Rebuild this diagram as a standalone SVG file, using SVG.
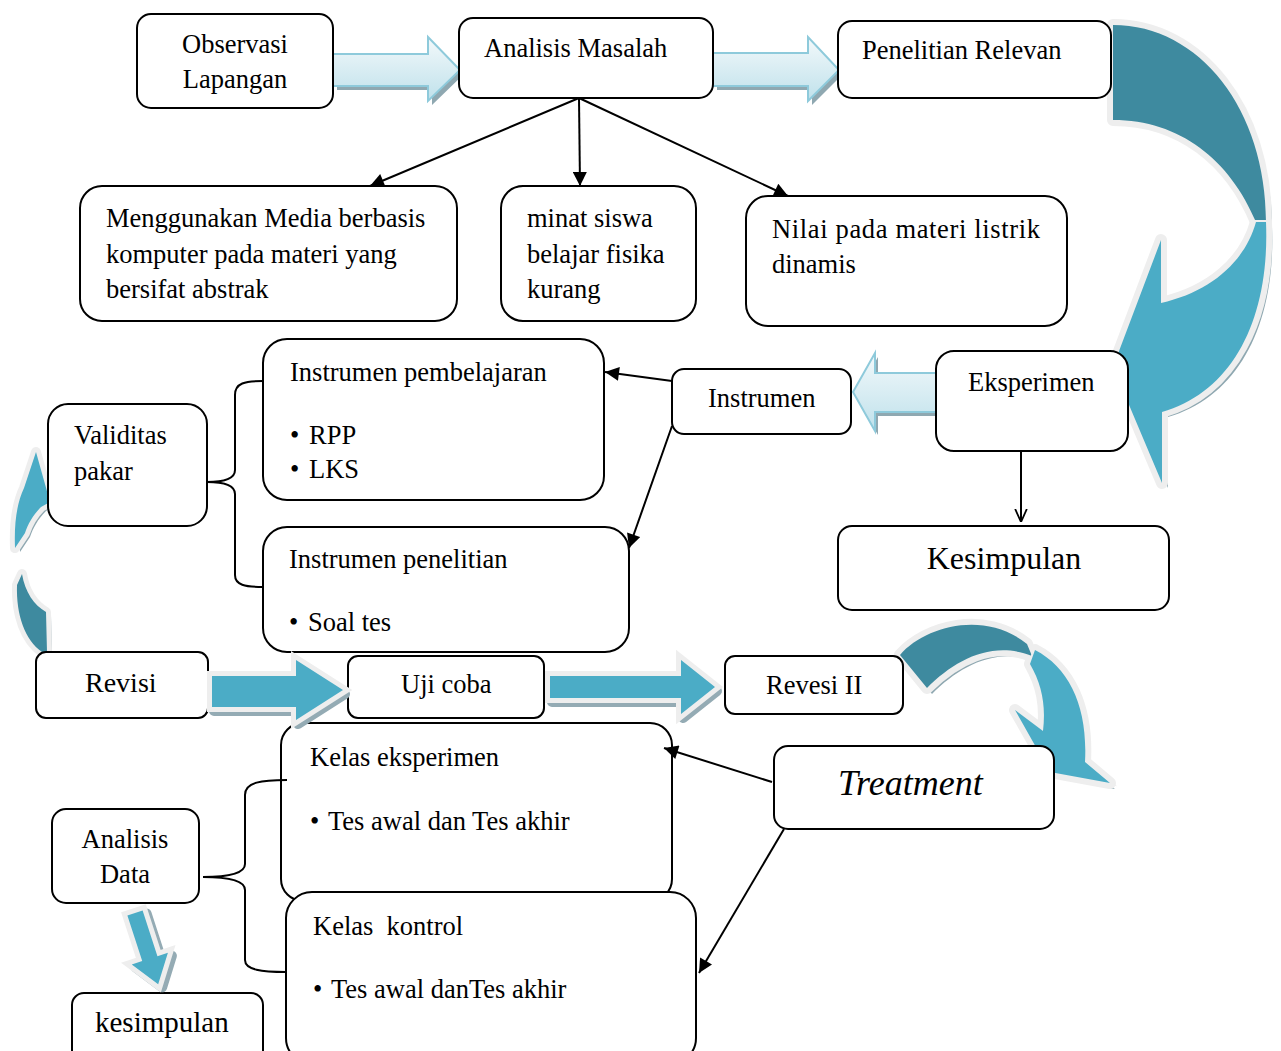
<svg xmlns="http://www.w3.org/2000/svg" width="1281" height="1051" viewBox="0 0 1281 1051">
<defs>
<style>
.box{fill:#fff;stroke:#000;stroke-width:2}
.t{font-family:"Liberation Serif","Times New Roman",serif;font-size:26.5px;fill:#000}
.ln{stroke:#000;stroke-width:2;fill:none}
.br{stroke:#000;stroke-width:2;fill:none}
.la{fill:url(#lg);stroke:#8ecadb;stroke-width:2}
.sh{fill:#8fa8b1}
.dk{fill:#3e8a9f}
.lt{fill:#4bacc6}
.ol{stroke:#eeeeee;stroke-width:12;stroke-linejoin:round;paint-order:stroke}
.shs{fill:#94abb4;stroke:#94abb4;stroke-width:10;stroke-linejoin:round}
</style>
<linearGradient id="lg" x1="0" y1="0" x2="0" y2="1">
<stop offset="0" stop-color="#f3f9fb"/>
<stop offset="1" stop-color="#bfe1eb"/>
</linearGradient>
<marker id="ah" viewBox="0 0 10 10" refX="10" refY="5" markerWidth="15" markerHeight="14" markerUnits="userSpaceOnUse" orient="auto">
<path d="M0,0 L10,5 L0,10 z" fill="#000"/>
</marker>
<marker id="av" viewBox="0 0 10 10" refX="10" refY="5" markerWidth="13" markerHeight="15" markerUnits="userSpaceOnUse" orient="auto">
<path d="M0,0.5 L10,5 L0,9.5" fill="none" stroke="#000" stroke-width="1.4"/>
</marker>
<path id="c1d" d="M1113,25 C1200,25 1266,110 1266,222 L1256,222 C1230,160 1180,120 1113,120 Z"/>
<path id="c1l" d="M1256,222 L1266,222 C1270,320 1232,392 1162,412 L1162,483 L1113,367 L1161,240 L1161,303 C1210,292 1245,262 1256,222 Z"/>
<path id="c2d" d="M17,585 C16,615 25,640 42,652 L47,652 L46,612 C34,605 25,592 22,574 Z"/>
<path id="c2l" d="M15,548 C14,522 17,503 24,488 L36,452 L50,502 L41,507 C33,515 28,524 25,533 Z"/>
<path id="c3d" d="M900,655 C925,626 985,610 1027,644 L1032,656 C992,640 955,660 927,688 Z"/>
<path id="c3l" d="M1035,650 C1070,668 1088,708 1085,762 L1110,783 L1050,772 L1015,710 L1043,731 C1046,705 1042,685 1030,664 Z"/>
</defs>
<rect width="1281" height="1051" fill="#fff"/>

<g id="connectors-back">
<g class="sh" transform="translate(6,5)"><use href="#c1d"/><use href="#c1l"/></g>
<g fill="none" stroke="#eeeeee" stroke-width="12" stroke-linejoin="round"><use href="#c1d"/><use href="#c1l"/></g>
<use href="#c1d" class="dk"/>
<use href="#c1l" class="lt" stroke="#eeeeee" stroke-width="4" paint-order="stroke"/>

<g class="sh" transform="translate(5,4)"><use href="#c2d"/><use href="#c2l"/></g>
<g fill="none" stroke="#eeeeee" stroke-width="10" stroke-linejoin="round"><use href="#c2d"/><use href="#c2l"/></g>
<use href="#c2d" class="dk"/>
<use href="#c2l" class="lt"/>

<g class="sh" transform="translate(5,6)"><use href="#c3d"/><use href="#c3l"/></g>
<g fill="none" stroke="#eeeeee" stroke-width="12" stroke-linejoin="round"><use href="#c3d"/><use href="#c3l"/></g>
<use href="#c3d" class="dk"/>
<use href="#c3l" class="lt" stroke="#eeeeee" stroke-width="4" paint-order="stroke"/>

<polygon class="sh" points="337,58 432,58 432,41 464,74 432,105 432,90 337,90"/>
<polygon class="la" points="333,54 428,54 428,37 460,70 428,101 428,86 333,86"/>
<polygon class="sh" points="717,57 812,57 812,41 843,74 812,105 812,90 717,90"/>
<polygon class="la" points="713,53 808,53 808,37 839,70 808,101 808,86 713,86"/>
<polygon class="sh" points="940,377 878,377 878,357 856,396 878,435 878,416 940,416"/>
<polygon class="la" points="937,373 875,373 875,353 853,392 875,431 875,412 937,412"/>
</g>

<g id="n-observasi"><rect class="box" x="137" y="14" width="196" height="94" rx="14"/>
<text class="t" x="235" y="53" text-anchor="middle">Observasi</text><text class="t" x="235" y="88" text-anchor="middle">Lapangan</text></g>
<g id="n-analisis"><rect class="box" x="459" y="18" width="254" height="80" rx="14"/>
<text class="t" x="484" y="57">Analisis Masalah</text></g>
<g id="n-penelitian"><rect class="box" x="838" y="21" width="273" height="77" rx="14"/>
<text class="t" x="862" y="59">Penelitian Relevan</text></g>
<g id="n-media"><rect class="box" x="80" y="186" width="377" height="135" rx="22"/>
<text class="t" x="106" y="227">Menggunakan Media berbasis</text><text class="t" x="106" y="263">komputer pada materi yang</text><text class="t" x="106" y="298">bersifat abstrak</text></g>
<g id="n-minat"><rect class="box" x="501" y="186" width="195" height="135" rx="22"/>
<text class="t" x="527" y="227">minat siswa</text><text class="t" x="527" y="263">belajar fisika</text><text class="t" x="527" y="298">kurang</text></g>
<g id="n-nilai"><rect class="box" x="746" y="196" width="321" height="130" rx="22"/>
<text class="t" x="772" y="238" textLength="268" lengthAdjust="spacing">Nilai pada materi listrik</text><text class="t" x="772" y="273">dinamis</text></g>
<g id="n-instpemb"><rect class="box" x="263" y="339" width="341" height="161" rx="24"/>
<text class="t" x="290" y="381">Instrumen pembelajaran</text>
<text class="t" x="290" y="444">•</text><text class="t" x="309" y="444">RPP</text>
<text class="t" x="290" y="478">•</text><text class="t" x="309" y="478">LKS</text></g>
<g id="n-instrumen"><rect class="box" x="672" y="369" width="179" height="65" rx="12"/>
<text class="t" x="708" y="407">Instrumen</text></g>
<g id="n-eksperimen"><rect class="box" x="936" y="351" width="192" height="100" rx="18"/>
<text class="t" x="968" y="391">Eksperimen</text></g>
<g id="n-validitas"><rect class="box" x="48" y="404" width="159" height="122" rx="20"/>
<text class="t" x="74" y="444">Validitas</text><text class="t" x="74" y="480">pakar</text></g>
<g id="n-instpen"><rect class="box" x="263" y="527" width="366" height="125" rx="24"/>
<text class="t" x="289" y="568">Instrumen penelitian</text>
<text class="t" x="289" y="631">•</text><text class="t" x="308" y="631">Soal tes</text></g>
<g id="n-kesimpulan"><rect class="box" x="838" y="526" width="331" height="84" rx="14"/>
<text class="t" x="1004" y="569" text-anchor="middle" style="font-size:32px">Kesimpulan</text></g>
<g id="n-revisi"><rect class="box" x="36" y="652" width="172" height="66" rx="10"/>
<text class="t" x="85" y="692" style="font-size:28px">Revisi</text></g>
<g id="n-ujicoba"><rect class="box" x="348" y="656" width="196" height="62" rx="10"/>
<text class="t" x="401" y="693">Uji coba</text></g>
<g id="n-revesi2"><rect class="box" x="725" y="656" width="178" height="58" rx="10"/>
<text class="t" x="766" y="694">Revesi II</text></g>
<g id="n-kelaseks"><rect class="box" x="281" y="723" width="391" height="178" rx="22"/>
<text class="t" x="310" y="766">Kelas eksperimen</text>
<text class="t" x="310" y="830">•</text><text class="t" x="328" y="830">Tes awal dan Tes akhir</text></g>
<g id="n-kelaskon"><rect class="box" x="286" y="892" width="410" height="172" rx="26"/>
<text class="t" x="313" y="935" style="white-space:pre">Kelas  kontrol</text>
<text class="t" x="313" y="998">•</text><text class="t" x="331" y="998">Tes awal danTes akhir</text></g>
<g id="n-treatment"><rect class="box" x="774" y="746" width="280" height="83" rx="14"/>
<text class="t" x="838" y="795" style="font-size:36px;font-style:italic">Treatment</text></g>
<g id="n-analisisdata"><rect class="box" x="52" y="809" width="147" height="94" rx="14"/>
<text class="t" x="125" y="848" text-anchor="middle">Analisis</text><text class="t" x="125" y="883" text-anchor="middle">Data</text></g>
<g id="n-kesimpulan2"><rect class="box" x="72" y="993" width="191" height="70" rx="12"/>
<text class="t" x="95" y="1032" style="font-size:29px">kesimpulan</text></g>

<g id="connectors">
<line class="ln" x1="579" y1="98" x2="370" y2="186" marker-end="url(#ah)"/>
<line class="ln" x1="579" y1="98" x2="580" y2="186" marker-end="url(#ah)"/>
<line class="ln" x1="579" y1="98" x2="788" y2="196" marker-end="url(#ah)"/>
<line class="ln" x1="672" y1="381" x2="605" y2="372" marker-end="url(#ah)"/>
<line class="ln" x1="672" y1="426" x2="629" y2="548" marker-end="url(#ah)"/>
<line class="ln" x1="1021" y1="451" x2="1021" y2="522" marker-end="url(#av)"/>
<line class="ln" x1="772" y1="782" x2="664" y2="748" marker-end="url(#ah)"/>
<line class="ln" x1="784" y1="829" x2="699" y2="973" marker-end="url(#ah)"/>
<path class="br" d="M263,381 C245,381 235,383 235,395 L235,470 C235,480 222,482 207,482 C222,482 235,484 235,494 L235,575 C235,585 245,587 263,587"/>
<path class="br" d="M287,780 C262,780 245,782 245,795 L245,864 C245,874 225,877 203,877 C225,877 245,880 245,890 L245,960 C245,970 262,972 286,972"/>

<polygon class="shs" points="214,680 298,680 298,664 345,694 298,724 298,711 214,711"/>
<polygon class="lt ol" style="stroke-width:10;stroke-linejoin:miter" points="212,676 296,676 296,660 343,690 296,720 296,707 212,707"/>
<polygon class="shs" points="552,680 683,680 683,664 717,691 683,718 683,702 552,702"/>
<polygon class="lt ol" style="stroke-width:10;stroke-linejoin:miter" points="550,676 681,676 681,660 715,687 681,714 681,698 550,698"/>
<g transform="translate(139,916) rotate(-18)"><polygon class="shs" points="-8,0 8,0 8,48 19,48 0,75 -19,48 -8,48"/></g>
<g transform="translate(135,913) rotate(-18)"><polygon class="lt ol" style="stroke-width:10;stroke-linejoin:miter" points="-8,0 8,0 8,48 19,48 0,75 -19,48 -8,48"/></g>
</g>
</svg>
